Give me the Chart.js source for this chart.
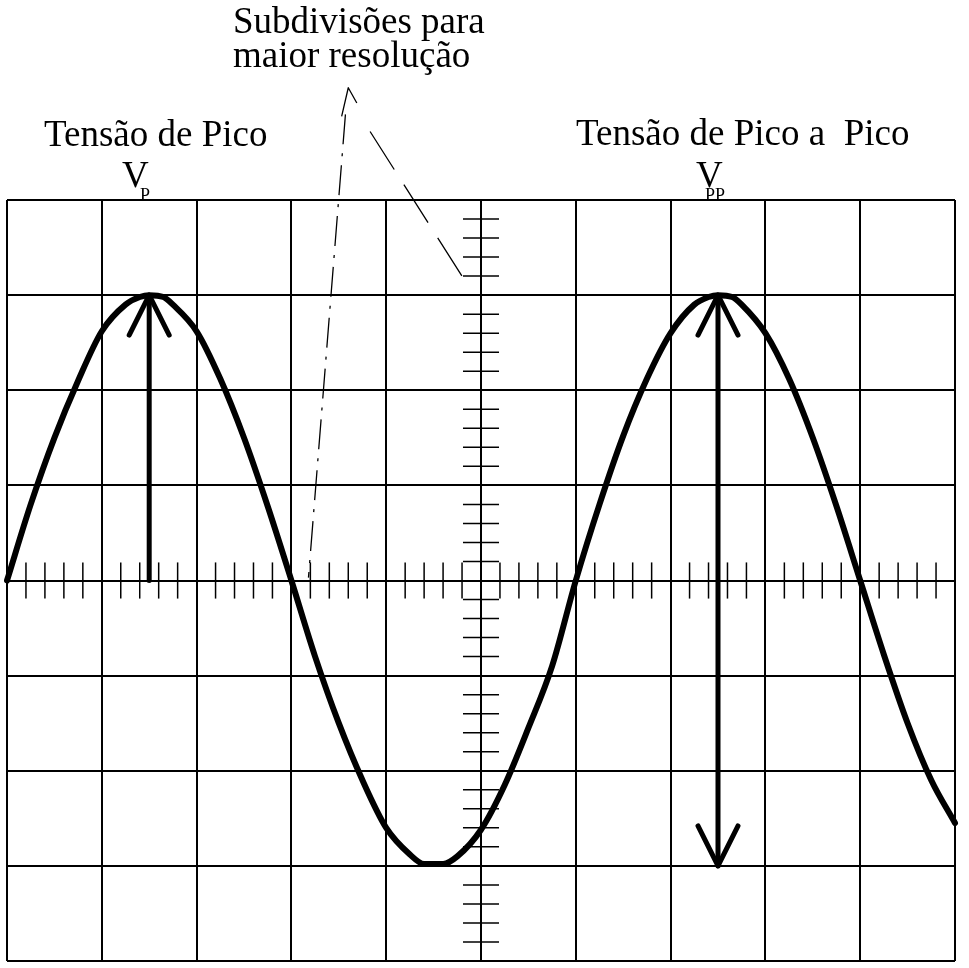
<!DOCTYPE html>
<html lang="pt">
<head>
<meta charset="utf-8">
<title>Tensão de Pico e Pico a Pico</title>
<script src="https://cdn.jsdelivr.net/npm/chart.js@4.4.1/dist/chart.umd.min.js"></script>
<style>
  html, body { margin: 0; padding: 0; background: #fff; }
  canvas { display: block; }
</style>
</head>
<body>
<canvas id="tela" width="969" height="968"></canvas>
<script>
// tela do osciloscópio: 10 divisões na horizontal, 8 na vertical
const limitesX = [0, 10];
const limitesY = [-4, 4];
const subdivisoes = 5;

const ondaX = [0, 0.25, 0.5, 0.75, 1, 1.25, 1.4, 1.5, 1.65, 1.75, 2, 2.25, 2.5, 2.75, 3,
               3.25, 3.5, 3.75, 4, 4.25, 4.4, 4.6, 4.75, 5, 5.25, 5.5, 5.75, 6,
               6.25, 6.5, 6.75, 7, 7.25, 7.4, 7.5, 7.65, 7.75, 8, 8.25, 8.5, 8.75, 9,
               9.25, 9.5, 9.75, 10];
const ondaY = [0, 0.8, 1.5, 2.1, 2.62, 2.9, 2.98, 3, 2.98, 2.9, 2.62, 2.12, 1.5, 0.78, 0,
               -0.8, -1.5, -2.1, -2.6, -2.88, -2.98, -2.98, -2.9, -2.62, -2.15, -1.55, -0.9, 0,
               0.8, 1.52, 2.12, 2.6, 2.9, 2.98, 3, 2.98, 2.9, 2.6, 2.12, 1.5, 0.78, 0,
               -0.78, -1.5, -2.1, -2.55];

// setas: [x, y inicial, y final]
const setaVp = [1.5, 0, 3];
const setaVpp = [7.5, 3, -3];

// textos
const textoSub = ['Subdivisões para', 'maior resolução'];
const textoVp = 'Tensão de Pico';
const textoVpp = 'Tensão de Pico a  Pico';

const fonte = '"Liberation Serif", "DejaVu Serif", serif';

function linha(ctx, x1, y1, x2, y2) {
    ctx.beginPath();
    ctx.moveTo(x1, y1);
    ctx.lineTo(x2, y2);
    ctx.stroke();
}

// ponta de seta em V
function ponta(ctx, x, y, sentido) {
    ctx.beginPath();
    ctx.moveTo(x - 20, y + sentido * 40);
    ctx.lineTo(x, y);
    ctx.lineTo(x + 20, y + sentido * 40);
    ctx.stroke();
}

const marcas = {
    id: 'marcas',
    beforeDatasetsDraw(chart) {
        const { ctx, scales: { x, y } } = chart;
        ctx.save();
        ctx.strokeStyle = '#000';
        ctx.lineWidth = 1.5;
        const meio = 0.19;
        // subdivisões no eixo horizontal central
        for (let i = 1; i < (limitesX[1] - limitesX[0]) * subdivisoes; i++) {
            if (i % subdivisoes === 0) continue;
            const px = x.getPixelForValue(limitesX[0] + i / subdivisoes);
            linha(ctx, px, y.getPixelForValue(meio), px, y.getPixelForValue(-meio));
        }
        // subdivisões no eixo vertical central
        const centroX = (limitesX[0] + limitesX[1]) / 2;
        for (let i = 1; i < (limitesY[1] - limitesY[0]) * subdivisoes; i++) {
            if (i % subdivisoes === 0) continue;
            const py = y.getPixelForValue(limitesY[0] + i / subdivisoes);
            linha(ctx, x.getPixelForValue(centroX - meio), py, x.getPixelForValue(centroX + meio), py);
        }
        ctx.restore();
    },
    afterDatasetsDraw(chart) {
        const { ctx, scales: { x, y } } = chart;
        ctx.save();
        ctx.strokeStyle = '#000';
        ctx.lineWidth = 5;
        ctx.lineCap = 'round';
        ctx.lineJoin = 'round';

        // Vp
        const vx = x.getPixelForValue(setaVp[0]);
        linha(ctx, vx, y.getPixelForValue(setaVp[1]), vx, y.getPixelForValue(setaVp[2]));
        ponta(ctx, vx, y.getPixelForValue(setaVp[2]), 1);

        // Vpp
        const wx = x.getPixelForValue(setaVpp[0]);
        linha(ctx, wx, y.getPixelForValue(setaVpp[1]), wx, y.getPixelForValue(setaVpp[2]));
        ponta(ctx, wx, y.getPixelForValue(setaVpp[1]), 1);
        ponta(ctx, wx, y.getPixelForValue(setaVpp[2]), -1);

        // linhas de chamada das subdivisões
        ctx.lineWidth = 1.3;
        ctx.lineCap = 'butt';
        ctx.setLineDash([30, 9, 3, 9]);
        linha(ctx, x.getPixelForValue(3.57), y.getPixelForValue(4.9), x.getPixelForValue(3.18), y.getPixelForValue(0.03));
        ctx.setLineDash([]);
        ctx.beginPath();
        ctx.moveTo(x.getPixelForValue(3.53), y.getPixelForValue(4.88));
        ctx.lineTo(x.getPixelForValue(3.6), y.getPixelForValue(5.18));
        ctx.lineTo(x.getPixelForValue(3.69), y.getPixelForValue(5.02));
        ctx.stroke();
        ctx.setLineDash([45, 18]);
        linha(ctx, x.getPixelForValue(3.83), y.getPixelForValue(4.72), x.getPixelForValue(4.8), y.getPixelForValue(3.2));
        ctx.setLineDash([]);
        ctx.restore();
    },
    afterDraw(chart) {
        const { ctx } = chart;
        ctx.save();
        ctx.fillStyle = '#000';
        ctx.textBaseline = 'alphabetic';
        ctx.textAlign = 'left';
        ctx.font = '37px ' + fonte;
        ctx.fillText(textoSub[0], 233, 33);
        ctx.fillText(textoSub[1], 233, 67);
        ctx.fillText(textoVp, 44, 146);
        ctx.fillText(textoVpp, 576, 145);
        ctx.fillText('V', 122, 187);
        ctx.fillText('V', 696, 187);
        ctx.font = '18px ' + fonte;
        ctx.fillText('P', 140, 201);
        ctx.fillText('PP', 705, 201);
        ctx.restore();
    }
};

const pontos = ondaX.map((v, i) => ({ x: v, y: ondaY[i] }));

new Chart(document.getElementById('tela'), {
    type: 'line',
    data: {
        datasets: [{
            data: pontos,
            borderColor: '#000',
            borderWidth: 6,
            pointRadius: 0,
            cubicInterpolationMode: 'monotone',
            borderCapStyle: 'round',
            borderJoinStyle: 'round',
            clip: false
        }]
    },
    options: {
        responsive: false,
        animation: false,
        layout: { padding: { left: 7, right: 14, top: 200, bottom: 7 } },
        plugins: { legend: { display: false }, tooltip: { enabled: false } },
        scales: {
            x: {
                type: 'linear', min: limitesX[0], max: limitesX[1],
                ticks: { stepSize: 1, display: false },
                grid: { color: '#000', lineWidth: 2, drawTicks: false },
                border: { display: false },
                afterFit: s => { s.height = 0; }
            },
            y: {
                type: 'linear', min: limitesY[0], max: limitesY[1],
                ticks: { stepSize: 1, display: false },
                grid: { color: '#000', lineWidth: 2, drawTicks: false },
                border: { display: false },
                afterFit: s => { s.width = 0; }
            }
        }
    },
    plugins: [marcas]
});
</script>
</body>
</html>
